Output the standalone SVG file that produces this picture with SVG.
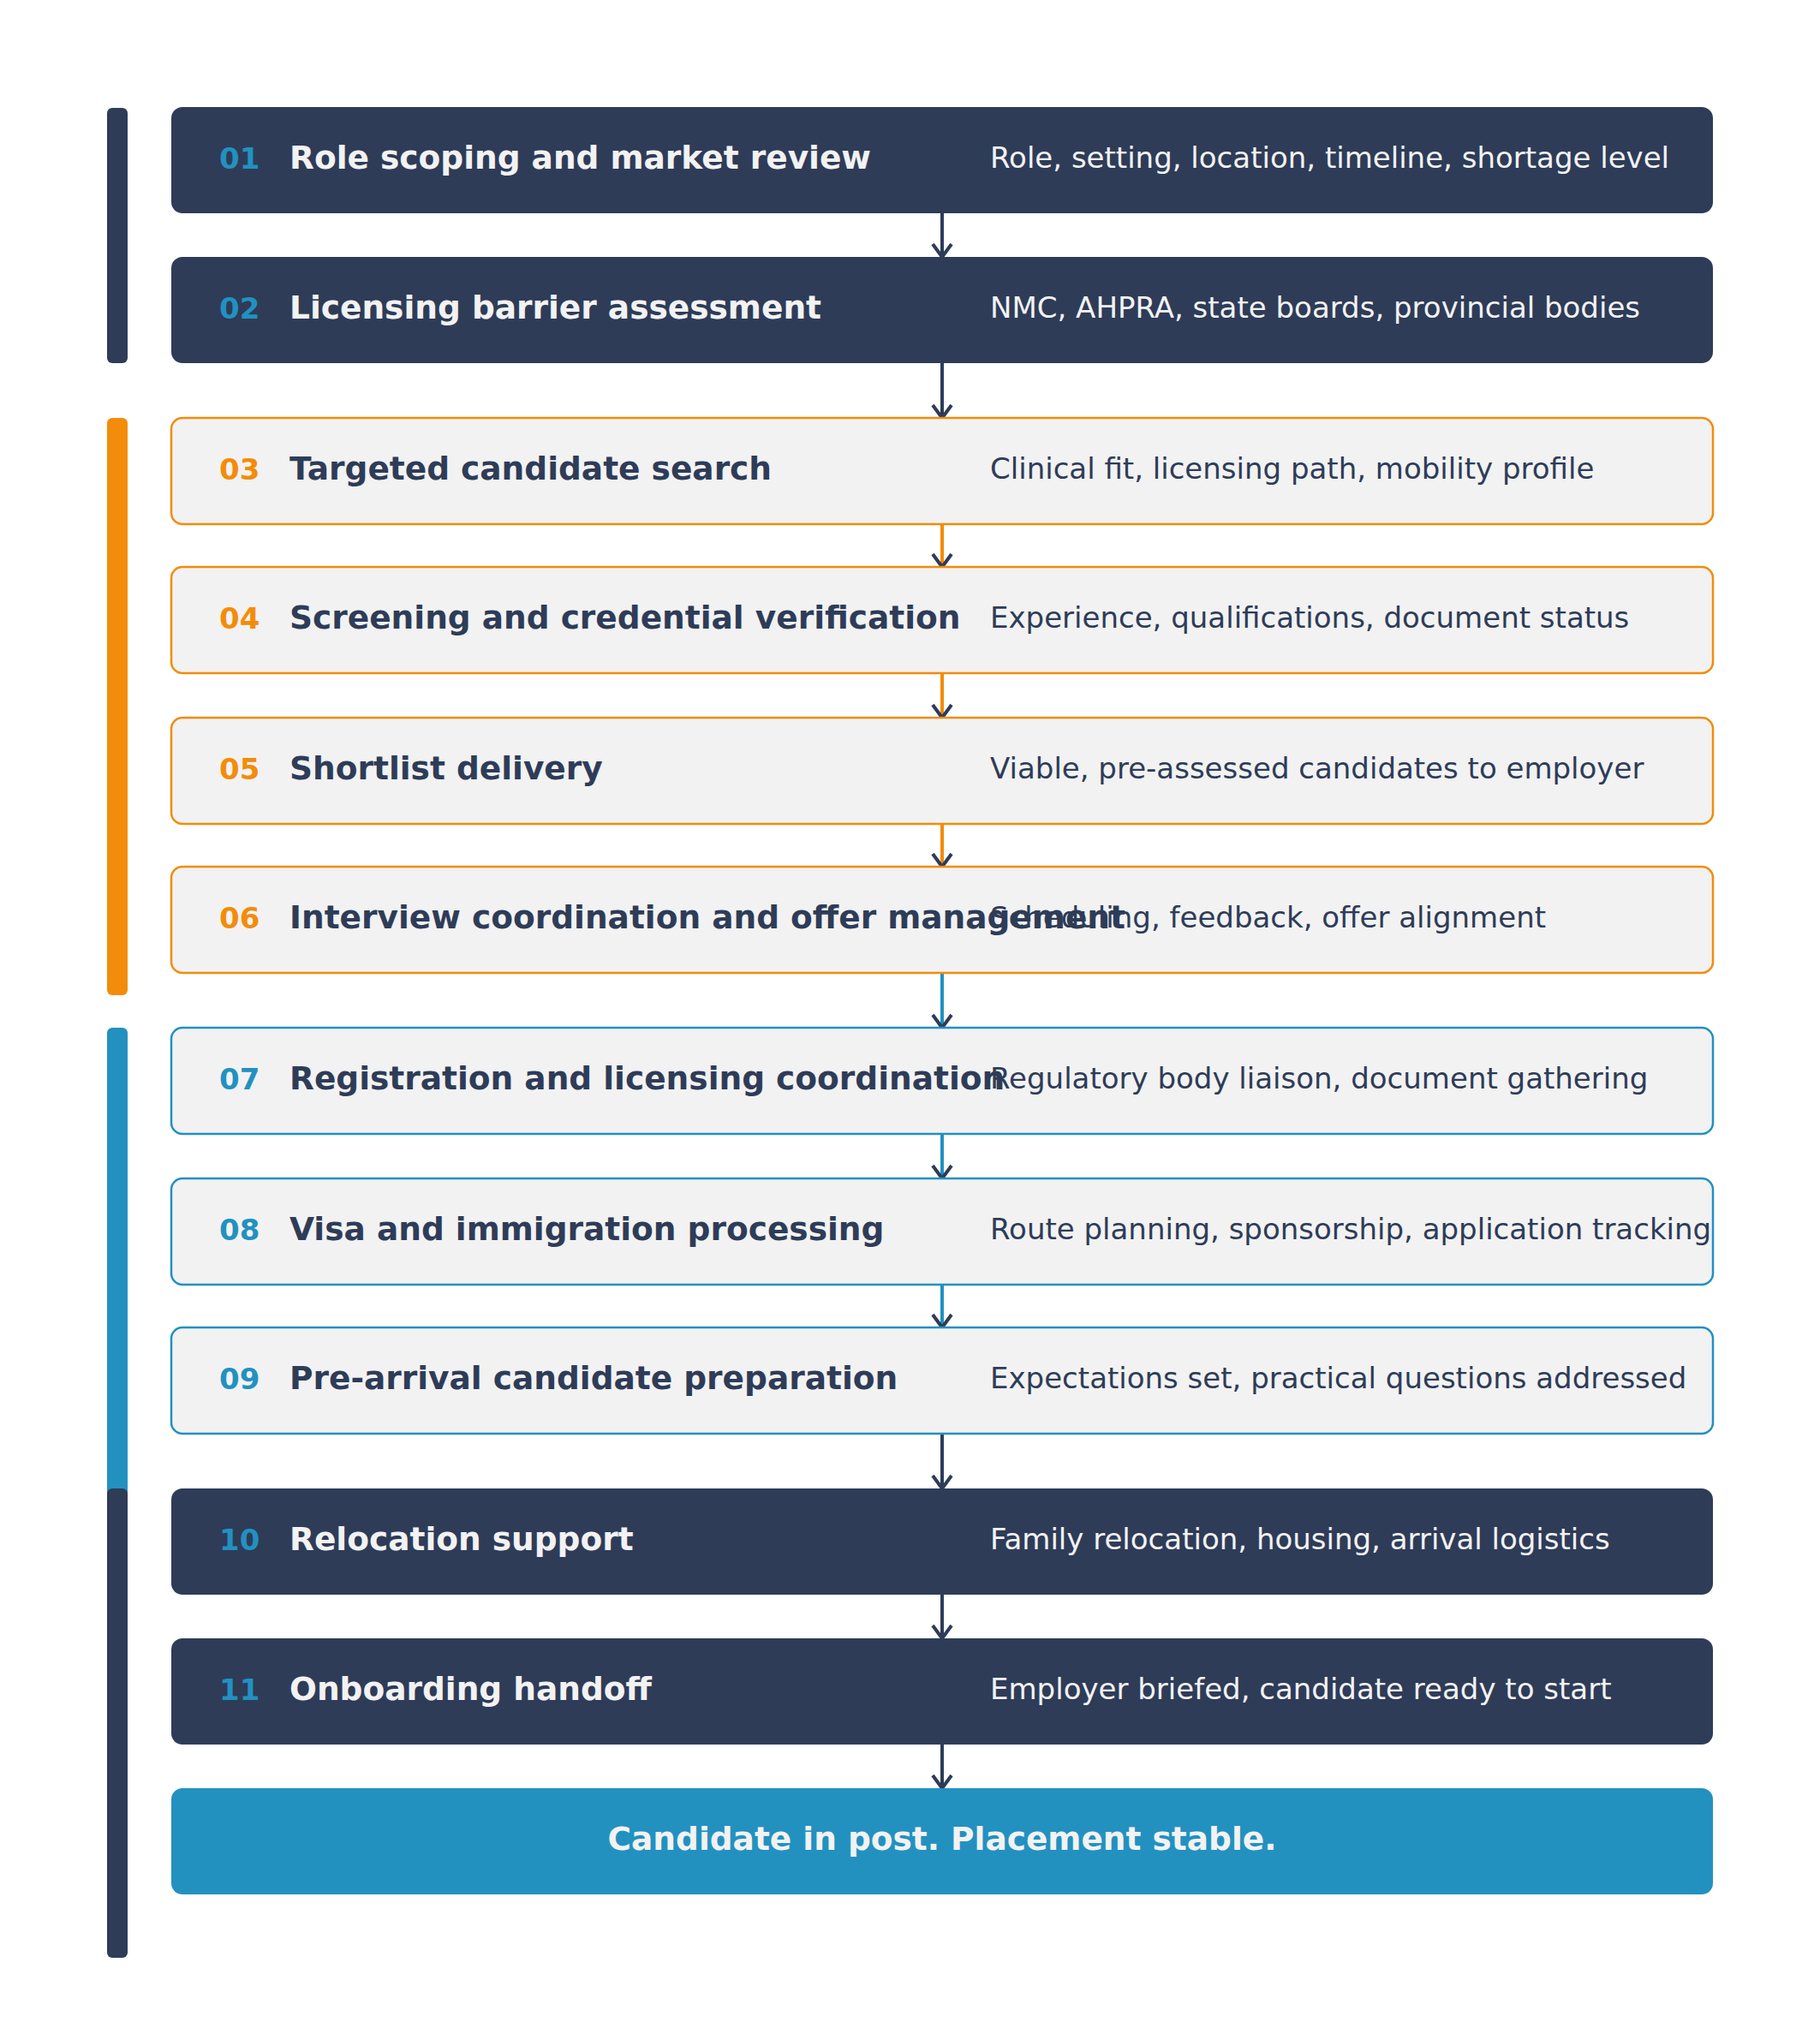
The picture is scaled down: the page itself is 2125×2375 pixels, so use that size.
<svg xmlns="http://www.w3.org/2000/svg" width="2125" height="2375" viewBox="0 0 2125 2375">
<defs>
<style>
.num{font-family:"DejaVu Sans",sans-serif;font-weight:bold;font-size:34px}
.t{font-family:"DejaVu Sans",sans-serif;font-weight:bold;font-size:37.5px}
.d{font-family:"DejaVu Sans",sans-serif;font-size:34px}
.dark rect{fill:#2E3C58}
.dark .t,.dark .d{fill:#F2F2F2}
.dark .num{fill:#2291C0}
.or rect{fill:#F2F2F2;stroke:#F28C0A;stroke-width:2.5}
.or .num{fill:#F28C0A}
.bl rect{fill:#F2F2F2;stroke:#2291C0;stroke-width:2.5}
.bl .num{fill:#2291C0}
.or .t,.bl .t,.or .d,.bl .d{fill:#2E3C58}
.c{fill:none;stroke-width:4}
</style>
</defs>
<rect width="2125" height="2375" fill="#fff"/>
<g id="bars">
<rect x="125" y="126" width="24" height="298" rx="6" fill="#2E3C58"/>
<rect x="125" y="488" width="24" height="674" rx="6" fill="#F28C0A"/>
<rect x="125" y="1200" width="24" height="560" rx="6" fill="#2291C0"/>
<rect x="125" y="1738" width="24" height="548" rx="6" fill="#2E3C58"/>
</g>
<g id="connectors">
<g class="c" stroke="#2E3C58"><path d="M1100 249V300M1100 424V488M1100 1674V1738M1100 1862V1913M1100 2037V2088"/></g>
<g class="c" stroke="#F28C0A"><path d="M1100 612V662M1100 786V838M1100 962V1012"/></g>
<g class="c" stroke="#2291C0"><path d="M1100 1136V1200M1100 1324V1376M1100 1500V1550"/></g>
<g fill="none" stroke="#2E3C58" stroke-width="4"><path d="M1089 285L1100 300L1111 285M1089 473L1100 488L1111 473M1089 647L1100 662L1111 647M1089 823L1100 838L1111 823M1089 997L1100 1012L1111 997M1089 1185L1100 1200L1111 1185M1089 1361L1100 1376L1111 1361M1089 1535L1100 1550L1111 1535M1089 1723L1100 1738L1111 1723M1089 1898L1100 1913L1111 1898M1089 2073L1100 2088L1111 2073"/></g>
</g>
<g id="n01" class="dark"><rect x="200" y="125" width="1800" height="124" rx="13"/><text class="num" x="256" y="197">01</text><text class="t" x="338" y="197">Role scoping and market review</text><text class="d" x="1156" y="196">Role, setting, location, timeline, shortage level</text></g>
<g id="n02" class="dark"><rect x="200" y="300" width="1800" height="124" rx="13"/><text class="num" x="256" y="372">02</text><text class="t" x="338" y="372">Licensing barrier assessment</text><text class="d" x="1156" y="371">NMC, AHPRA, state boards, provincial bodies</text></g>
<g id="n03" class="or"><rect x="200" y="488" width="1800" height="124" rx="13"/><text class="num" x="256" y="560">03</text><text class="t" x="338" y="560">Targeted candidate search</text><text class="d" x="1156" y="559">Clinical fit, licensing path, mobility profile</text></g>
<g id="n04" class="or"><rect x="200" y="662" width="1800" height="124" rx="13"/><text class="num" x="256" y="734">04</text><text class="t" x="338" y="734">Screening and credential verification</text><text class="d" x="1156" y="733">Experience, qualifications, document status</text></g>
<g id="n05" class="or"><rect x="200" y="838" width="1800" height="124" rx="13"/><text class="num" x="256" y="910">05</text><text class="t" x="338" y="910">Shortlist delivery</text><text class="d" x="1156" y="909">Viable, pre-assessed candidates to employer</text></g>
<g id="n06" class="or"><rect x="200" y="1012" width="1800" height="124" rx="13"/><text class="num" x="256" y="1084">06</text><text class="t" x="338" y="1084">Interview coordination and offer management</text><text class="d" x="1156" y="1083">Scheduling, feedback, offer alignment</text></g>
<g id="n07" class="bl"><rect x="200" y="1200" width="1800" height="124" rx="13"/><text class="num" x="256" y="1272">07</text><text class="t" x="338" y="1272">Registration and licensing coordination</text><text class="d" x="1156" y="1271">Regulatory body liaison, document gathering</text></g>
<g id="n08" class="bl"><rect x="200" y="1376" width="1800" height="124" rx="13"/><text class="num" x="256" y="1448">08</text><text class="t" x="338" y="1448">Visa and immigration processing</text><text class="d" x="1156" y="1447">Route planning, sponsorship, application tracking</text></g>
<g id="n09" class="bl"><rect x="200" y="1550" width="1800" height="124" rx="13"/><text class="num" x="256" y="1622">09</text><text class="t" x="338" y="1622">Pre-arrival candidate preparation</text><text class="d" x="1156" y="1621">Expectations set, practical questions addressed</text></g>
<g id="n10" class="dark"><rect x="200" y="1738" width="1800" height="124" rx="13"/><text class="num" x="256" y="1810">10</text><text class="t" x="338" y="1810">Relocation support</text><text class="d" x="1156" y="1809">Family relocation, housing, arrival logistics</text></g>
<g id="n11" class="dark"><rect x="200" y="1913" width="1800" height="124" rx="13"/><text class="num" x="256" y="1985">11</text><text class="t" x="338" y="1985">Onboarding handoff</text><text class="d" x="1156" y="1984">Employer briefed, candidate ready to start</text></g>
<g id="final"><rect x="200" y="2088" width="1800" height="124" rx="13" fill="#2291C0"/><text class="t" x="1100" y="2160" text-anchor="middle" fill="#F2F2F2">Candidate in post. Placement stable.</text></g>
</svg>
